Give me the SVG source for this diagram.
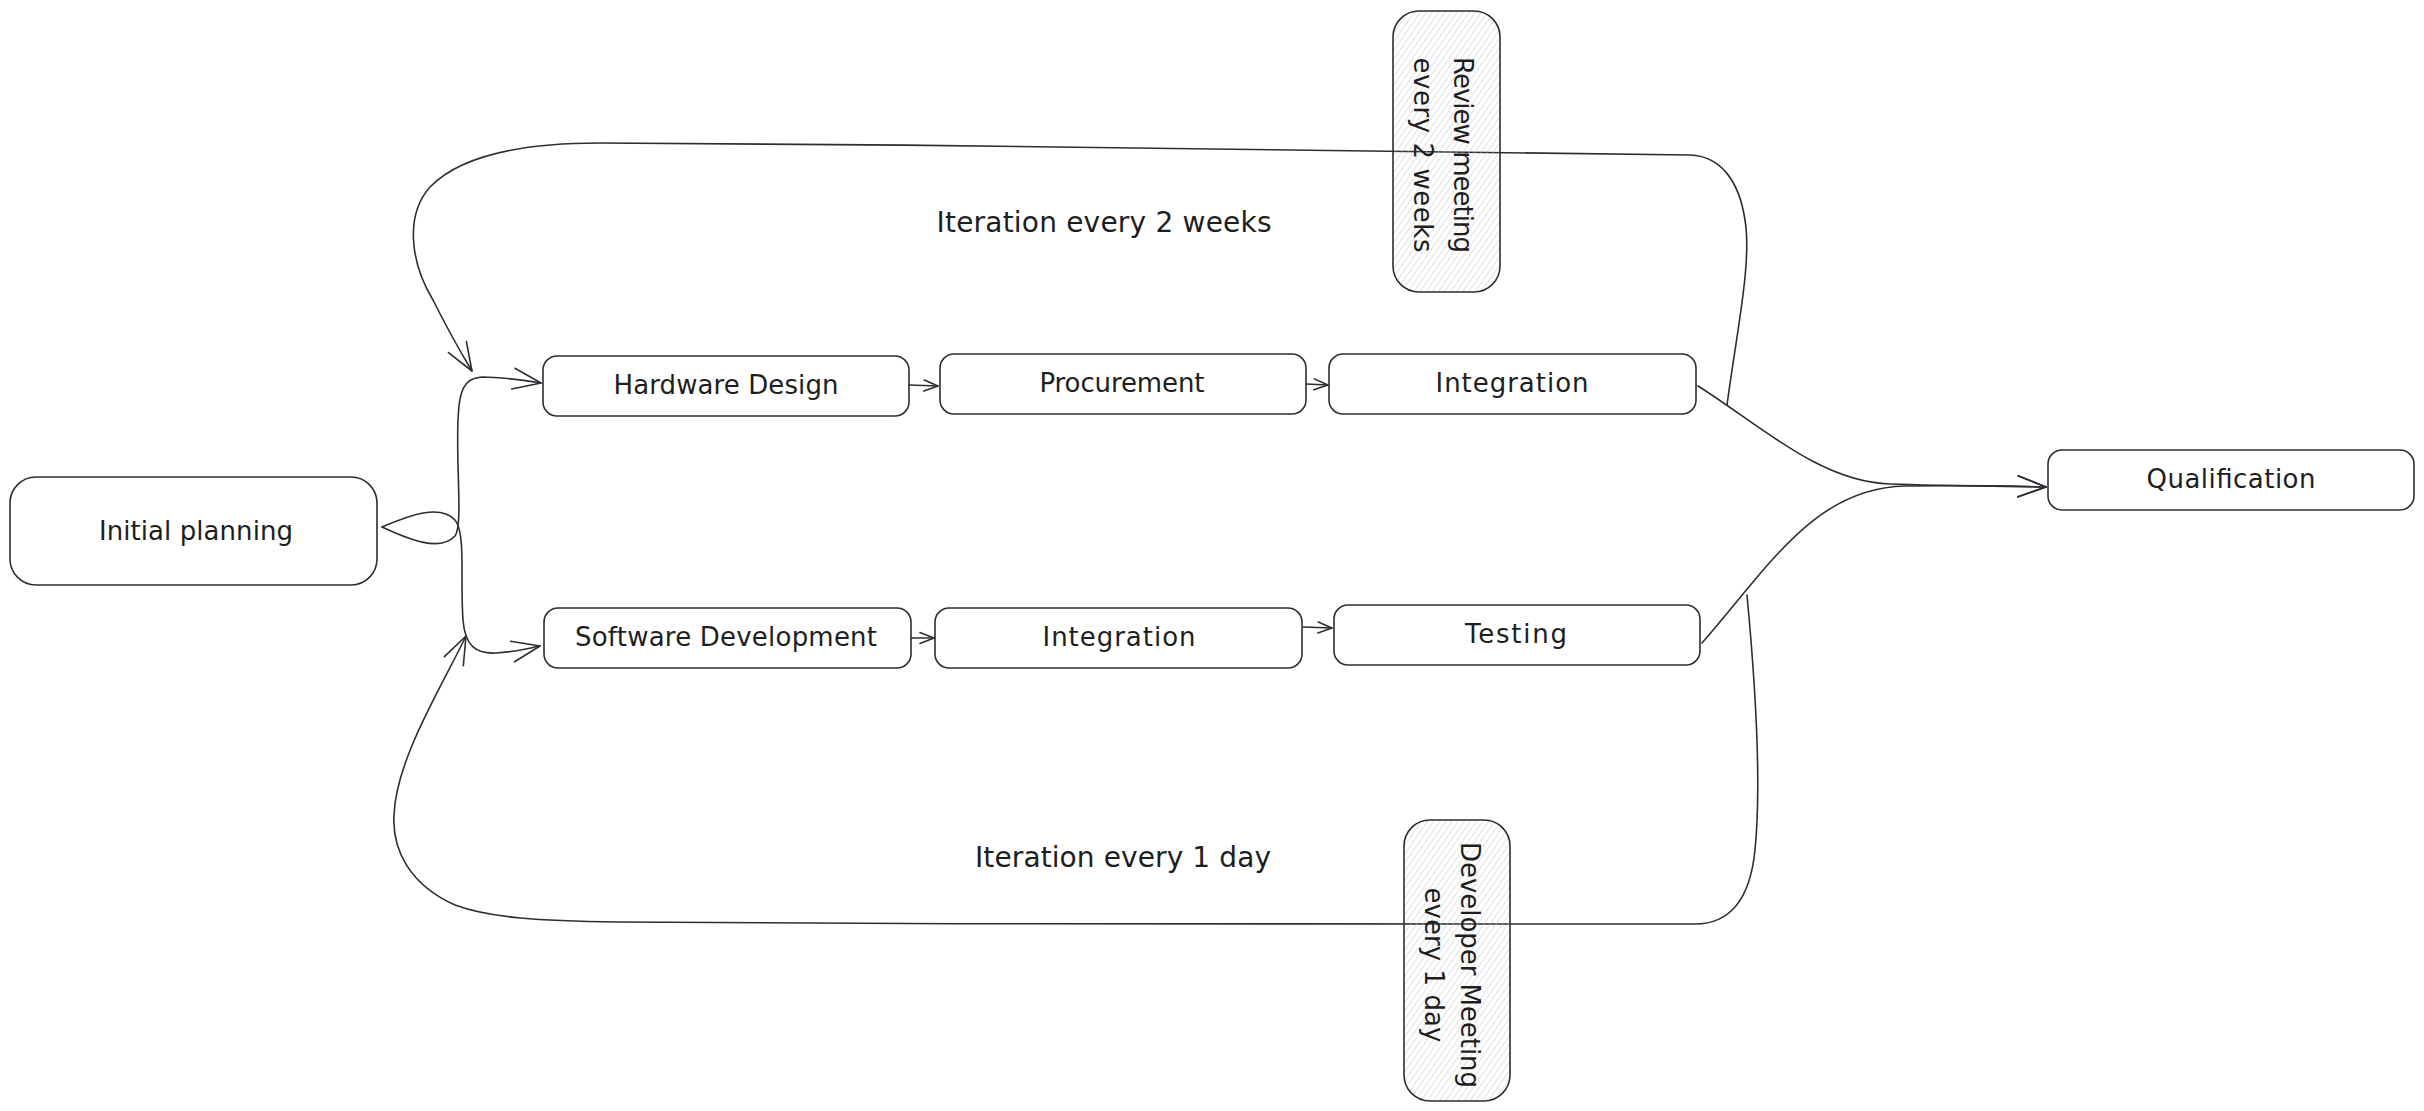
<svg xmlns="http://www.w3.org/2000/svg" width="2424" height="1111" viewBox="0 0 2424 1111">
<style>
.box{fill:#ffffff;stroke:#2b2f33;stroke-width:1.6}
.meet{fill:url(#hatch);stroke:#2b2f33;stroke-width:1.6}
.lbl{font-family:"DejaVu Sans","Liberation Sans",sans-serif;font-size:26px;fill:#1e1e1e;text-anchor:middle;dominant-baseline:central}
.free{font-size:28px}
.con{fill:none;stroke:#2b2f33;stroke-width:1.6;stroke-linecap:round;stroke-linejoin:round}
.big{marker-end:url(#arrowL)}
.sm{marker-end:url(#arrowS)}
</style>
<defs>
<pattern id="hatch" patternUnits="userSpaceOnUse" width="5" height="10" patternTransform="rotate(35)">
<line x1="0" y1="0" x2="0" y2="10" stroke="#c4c4c4" stroke-width="1"/>
</pattern>
<marker id="arrowL" markerUnits="userSpaceOnUse" markerWidth="40" markerHeight="30" refX="30" refY="15" orient="auto" overflow="visible">
<path d="M2,4.5 L30,15 L2,25.5" fill="none" stroke="#2b2f33" stroke-width="1.6" stroke-linecap="round" stroke-linejoin="round"/>
</marker>
<marker id="arrowS" markerUnits="userSpaceOnUse" markerWidth="20" markerHeight="16" refX="16" refY="8" orient="auto" overflow="visible">
<path d="M2,2.5 L16,8 L2,13.5" fill="none" stroke="#2b2f33" stroke-width="1.6" stroke-linecap="round" stroke-linejoin="round"/>
</marker>
</defs>
<rect width="2424" height="1111" fill="#ffffff"/>

<g id="connectors">
<path class="con big" d="M382,527 C410,540 440,552 455,536 C463,525 456,470 458,420 C459,392 463,378 482,377 C502,377 522,380 541,383"/>
<path class="con big" d="M382,527 C410,515 440,504 455,520 C466,533 460,580 463,620 C465,646 476,654 496,653 C515,652 525,649 540,646"/>
<path class="con sm" d="M909,385 L938,386"/>
<path class="con sm" d="M1306,384 L1328,385"/>
<path class="con sm" d="M911,638 L934,638"/>
<path class="con sm" d="M1303,627 L1332,628"/>
<path class="con big" d="M1698,386 C1760,425 1820,482 1890,484 C1950,486 2000,486 2046,487"/>
<path class="con big" d="M1702,643 C1770,565 1815,488 1905,486 C1960,485 2005,486 2046,487"/>
<path class="con big" d="M1727,405 C1737,330 1752,262 1745,220 C1739,180 1720,156 1690,155 C1500,151 1000,145 600,143 C520,143 460,156 430,187 C405,215 410,262 433,300 C445,324 458,348 472,371"/>
<path class="con big" d="M1747,595 C1755,680 1762,780 1755,850 C1750,900 1730,924 1695,924 C1500,922 1000,926 618,922 C540,921 490,918 455,905 C410,885 392,850 394,815 C396,760 440,690 466,636"/>
</g>

<g id="initial-planning"><rect class="box" x="10" y="477" width="367" height="108" rx="26"/><text class="lbl" x="196" y="531" textLength="194">Initial planning</text></g>
<g id="hardware-design"><rect class="box" x="543" y="356" width="366" height="60" rx="14"/><text class="lbl" x="726" y="385" textLength="225">Hardware Design</text></g>
<g id="procurement"><rect class="box" x="940" y="354" width="366" height="60" rx="14"/><text class="lbl" x="1122" y="383" textLength="165">Procurement</text></g>
<g id="integration-hw"><rect class="box" x="1329" y="354" width="367" height="60" rx="14"/><text class="lbl" x="1512" y="383" textLength="153">Integration</text></g>
<g id="software-development"><rect class="box" x="544" y="608" width="367" height="60" rx="14"/><text class="lbl" x="726" y="637" textLength="302">Software Development</text></g>
<g id="integration-sw"><rect class="box" x="935" y="608" width="367" height="60" rx="14"/><text class="lbl" x="1119" y="637" textLength="153">Integration</text></g>
<g id="testing"><rect class="box" x="1334" y="605" width="366" height="60" rx="14"/><text class="lbl" x="1516" y="634" textLength="102">Testing</text></g>
<g id="qualification"><rect class="box" x="2048" y="450" width="366" height="60" rx="14"/><text class="lbl" x="2231" y="479" textLength="169">Qualification</text></g>

<g id="review-meeting"><rect class="meet" x="1393" y="11" width="107" height="281" rx="26"/>
<g transform="translate(1443,155) rotate(90)"><text class="lbl" x="0" y="-20" textLength="196">Review meeting</text><text class="lbl" x="0" y="20" textLength="195">every 2 weeks</text></g></g>
<g id="developer-meeting"><rect class="meet" x="1404" y="820" width="106" height="281" rx="26"/>
<g transform="translate(1452,965) rotate(90)"><text class="lbl" x="0" y="-18" textLength="246">Developer Meeting</text><text class="lbl" x="0" y="18" textLength="155">every 1 day</text></g></g>

<g id="label-2weeks"><text class="lbl free" x="1104" y="222" textLength="335">Iteration every 2 weeks</text></g>
<g id="label-1day"><text class="lbl free" x="1123" y="857" textLength="296">Iteration every 1 day</text></g>
</svg>
